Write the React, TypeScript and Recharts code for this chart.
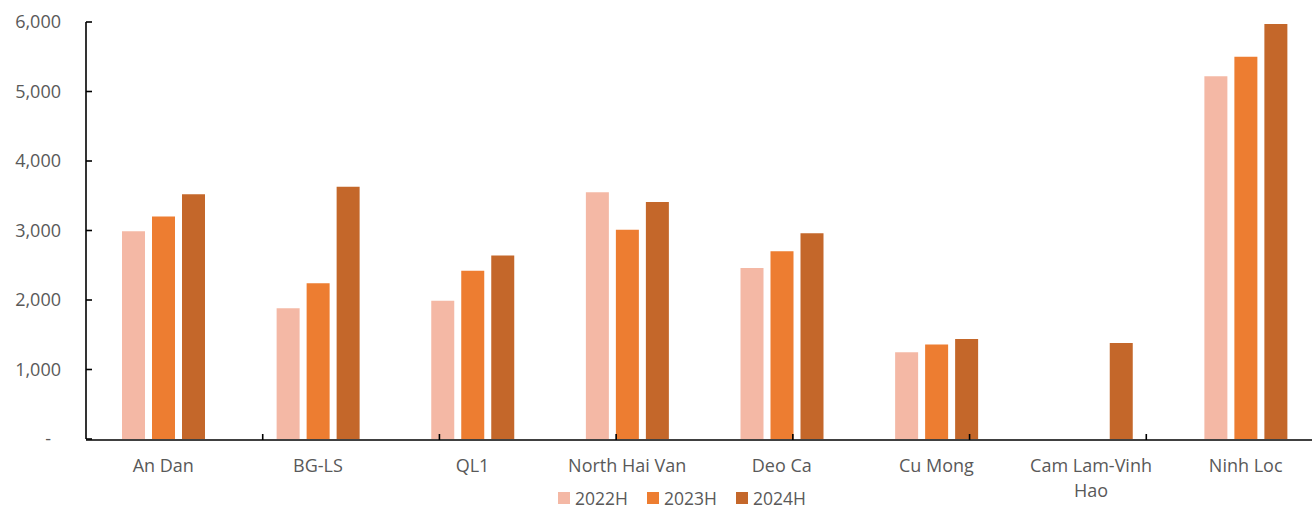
import { Bar, BarChart, Legend, Text, XAxis, YAxis } from "recharts";

// toll road, revenue per half-year
const roads = [
  "An Dan",
  "BG-LS",
  "QL1",
  "North Hai Van",
  "Deo Ca",
  "Cu Mong",
  "Cam Lam-Vinh Hao",
  "Ninh Loc",
];
const h2022 = [2990, 1880, 1990, 3550, 2460, 1250, null, 5220];
const h2023 = [3200, 2240, 2420, 3010, 2700, 1360, null, 5500];
const h2024 = [3520, 3630, 2640, 3410, 2960, 1440, 1380, 5970];
const yTicks = [0, 1000, 2000, 3000, 4000, 5000, 6000];
const dividers = [1, 2, 3, 4, 5, 6, 7];

const series = [
  { key: "h2022", name: "2022H", color: "#F4B8A5" },
  { key: "h2023", name: "2023H", color: "#ED7D31" },
  { key: "h2024", name: "2024H", color: "#C4672A" },
];

const data = roads.map((road, i) => ({
  road,
  h2022: h2022[i],
  h2023: h2023[i],
  h2024: h2024[i],
}));

const font = "'Open Sans', 'Noto Sans', sans-serif";
const grey = "#595959";
const fs = 18;

const YTick = (props: any) => {
  const { x, y, payload } = props;
  const v = payload.value;
  return (
    <text
      x={v === 0 ? x - 10 : x}
      y={y}
      dy="0.35em"
      textAnchor="end"
      fill={grey}
      fontSize={fs}
      fontFamily={font}
    >
      {v === 0 ? "-" : v.toLocaleString("en-US")}
    </text>
  );
};

const XTick = (props: any) => {
  const { x, y, payload } = props;
  return (
    <Text
      x={x}
      y={y + 20}
      width={132}
      textAnchor="middle"
      verticalAnchor="start"
      lineHeight={25}
      fill={grey}
      fontSize={fs}
      fontFamily={font}
      style={{ fontSize: fs, fontFamily: font }}
    >
      {payload.value}
    </Text>
  );
};

const LegendBox = (props: any) => {
  const { payload } = props;
  return (
    <div
      style={{
        display: "flex",
        alignItems: "center",
        height: 18,
        lineHeight: "18px",
        marginLeft: 558,
        fontFamily: font,
        fontSize: 17.5,
        color: grey,
      }}
    >
      {(payload || []).map((p: any) => (
        <span
          key={p.value}
          style={{ display: "flex", alignItems: "center", marginRight: 19 }}
        >
          <span
            style={{
              width: 12,
              height: 12,
              background: p.color,
              marginRight: 5,
              display: "inline-block",
            }}
          />
          {p.value}
        </span>
      ))}
    </div>
  );
};

export default function App() {
  return (
    <div
      style={{
        position: "absolute",
        left: 0,
        top: 0,
        width: 1312,
        height: 511,
        overflow: "hidden",
        background: "#fff",
      }}
    >
      <BarChart
        width={1350}
        height={511}
        data={data}
        margin={{ top: 22, right: 27, left: 0, bottom: 52 }}
        barSize={23}
        barGap={7}
      >
        <XAxis
          dataKey="road"
          height={1}
          axisLine={false}
          tickLine={false}
          tickSize={0}
          tickMargin={0}
          interval={0}
          tick={<XTick />}
        />
        <XAxis
          xAxisId="div"
          type="number"
          domain={[0, 8]}
          ticks={dividers}
          height={1}
          tickFormatter={() => ""}
          tickSize={-6}
          axisLine={{ stroke: "#000", strokeWidth: 1.6 }}
          tickLine={{ stroke: "#000", strokeWidth: 1.6 }}
        />
        <YAxis
          width={86}
          domain={[0, 6000]}
          ticks={yTicks}
          interval={0}
          tickSize={-6}
          tickMargin={31}
          axisLine={{ stroke: "#000", strokeWidth: 1.6 }}
          tickLine={{ stroke: "#000", strokeWidth: 1.6 }}
          tick={<YTick />}
        />
        <Legend
          verticalAlign="bottom"
          align="left"
          content={<LegendBox />}
          wrapperStyle={{ top: 489, bottom: "auto", left: 0 }}
        />
        {series.map((s) => (
          <Bar
            key={s.key}
            dataKey={s.key}
            name={s.name}
            fill={s.color}
            isAnimationActive={false}
          />
        ))}
      </BarChart>
    </div>
  );
}
